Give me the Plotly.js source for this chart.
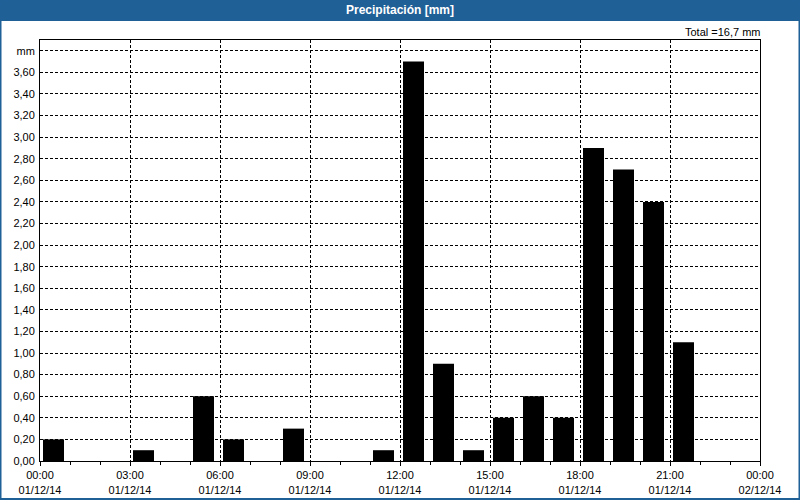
<!DOCTYPE html>
<html>
<head>
<meta charset="utf-8">
<script src="https://cdn.plot.ly/plotly-3.0.1.min.js"></script>
<style>html,body{margin:0;padding:0;background:#fff;}#chart{width:800px;height:500px;}</style>
</head>
<body>
<div id="chart"></div>
<script>
// Data
const hours = ['2014-12-01 00:00','2014-12-01 01:00','2014-12-01 02:00','2014-12-01 03:00','2014-12-01 04:00','2014-12-01 05:00',
  '2014-12-01 06:00','2014-12-01 07:00','2014-12-01 08:00','2014-12-01 09:00','2014-12-01 10:00','2014-12-01 11:00',
  '2014-12-01 12:00','2014-12-01 13:00','2014-12-01 14:00','2014-12-01 15:00','2014-12-01 16:00','2014-12-01 17:00',
  '2014-12-01 18:00','2014-12-01 19:00','2014-12-01 20:00','2014-12-01 21:00','2014-12-01 22:00','2014-12-01 23:00'];
const precip = [0.2,0,0,0.1,0,0.6,0.2,0,0.3,0,0,0.1,3.7,0.9,0.1,0.4,0.6,0.4,2.9,2.7,2.4,1.1,0,0];
const yTickVals = [0,0.2,0.4,0.6,0.8,1.0,1.2,1.4,1.6,1.8,2.0,2.2,2.4,2.6,2.8,3.0,3.2,3.4,3.6,3.8];
const yTickLabels = ['0,00','0,20','0,40','0,60','0,80','1,00','1,20','1,40','1,60','1,80','2,00','2,20','2,40','2,60','2,80','3,00','3,20','3,40','3,60','mm'];
const chartTitle = 'Precipitación [mm]';
const totalText = 'Total =16,7 mm';
const xRange = ['2014-12-01 00:00','2014-12-02 00:00'];

const W = 800, H = 500;
const M = {l:40, r:40, t:40, b:39};
const pw = W - M.l - M.r, ph = H - M.t - M.b;
const px = x => (x - M.l) / pw;
const py = y => (H - M.b - y) / ph;
const HOUR = 3600000;
const blue = '#1f6097';
const font = 'Liberation Sans, Arial, sans-serif';

const trace = {
  type: 'bar', x: hours, y: precip,
  offset: 0.1 * HOUR, width: 0.7 * HOUR,
  marker: {color: '#000000', line: {width: 0}},
  hoverinfo: 'x+y'
};

const layout = {
  width: W, height: H,
  margin: M,
  paper_bgcolor: '#ffffff', plot_bgcolor: '#ffffff',
  showlegend: false,
  separators: ',.',
  font: {family: font, size: 11, color: '#000'},
  title: {text: chartTitle, x: 0.5, xref: 'paper', xanchor: 'center', y: 1 - 10/H, yref: 'container', yanchor: 'middle',
          font: {family: font, size: 12, color: '#ffffff', weight: 'bold'}},
  xaxis: {
    type: 'date', range: xRange,
    tickmode: 'linear', tick0: '2014-12-01 00:00', dtick: 3 * HOUR,
    tickformat: '%H:%M<br>%d/%m/%y',
    ticks: 'outside', ticklen: 4, tickcolor: '#000', tickwidth: 1,
    showgrid: true, gridcolor: '#000', gridwidth: 1, griddash: '3px,2px',
    minor: {dtick: HOUR, tick0: '2014-12-01 00:00', ticks: 'outside', ticklen: 3, tickcolor: '#000', showgrid: false},
    showline: true, linecolor: '#000', linewidth: 1, mirror: true,
    zeroline: false, fixedrange: true,
    tickfont: {family: font, size: 11, color: '#000'}
  },
  yaxis: {
    range: [0, 3.9],
    tickmode: 'array', tickvals: yTickVals, ticktext: yTickLabels,
    ticks: '', ticklabelstandoff: 2,
    showgrid: true, gridcolor: '#000', gridwidth: 1, griddash: '3px,2px',
    showline: true, linecolor: '#000', linewidth: 1, mirror: true,
    zeroline: false, fixedrange: true,
    tickfont: {family: font, size: 11, color: '#000'}
  },
  shapes: [
    {type: 'rect', xref: 'paper', yref: 'paper', layer: 'below',
     x0: px(0), x1: px(W), y0: py(21), y1: py(0), fillcolor: blue, line: {width: 0}},
    {type: 'rect', xref: 'paper', yref: 'paper', layer: 'above',
     x0: px(0.5), x1: px(W - 0.5), y0: py(H - 1), y1: py(0.5), fillcolor: 'rgba(0,0,0,0)', line: {color: blue, width: 2}}
  ],
  annotations: [
    {text: totalText, xref: 'paper', yref: 'paper', x: px(763), y: py(32), xanchor: 'right', yanchor: 'middle',
     showarrow: false, font: {family: font, size: 11, color: '#000'}}
  ]
};

Plotly.newPlot('chart', [trace], layout, {displayModeBar: false, staticPlot: true});
</script>
</body>
</html>
